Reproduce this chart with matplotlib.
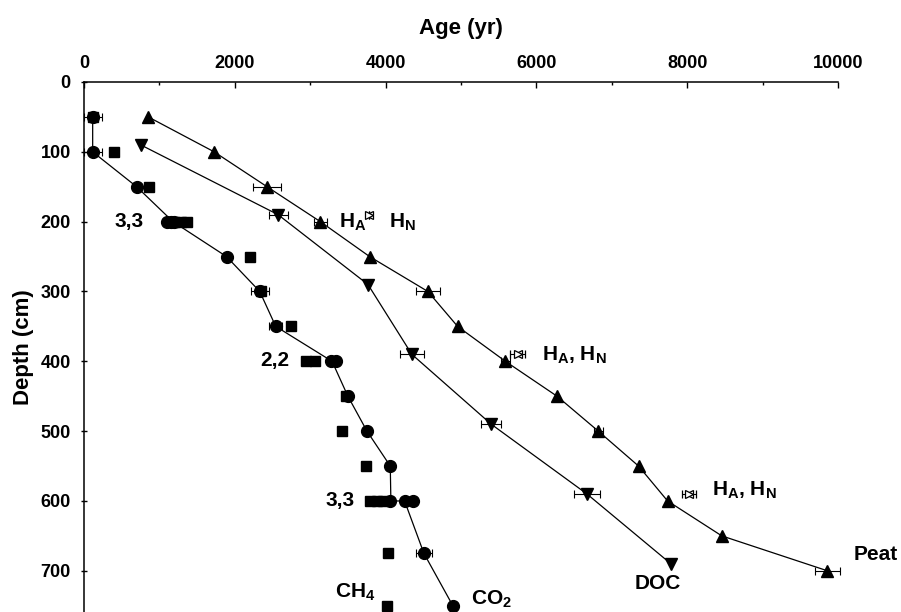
import matplotlib.pyplot as plt

plt.rcParams['font.family'] = ['Liberation Sans', 'DejaVu Sans']
plt.rcParams['font.weight'] = 'bold'
plt.rcParams['mathtext.fontset'] = 'custom'
plt.rcParams['mathtext.rm'] = 'Liberation Sans:bold'
plt.rcParams['mathtext.bf'] = 'Liberation Sans:bold'
plt.rcParams['mathtext.it'] = 'Liberation Sans:bold'
plt.rcParams['mathtext.default'] = 'bf'

# Peat (up triangles)
peat_depth = [50, 100, 150, 200, 250, 300, 350, 400, 450, 500, 550, 600, 650, 700]
peat_age = [852, 1726, 2428, 3135, 3788, 4561, 4955, 5589, 6274, 6821, 7355, 7740, 8459, 9860]
peat_err = [0, 0, 180, 90, 0, 155, 0, 60, 0, 60, 0, 0, 0, 170]

# DOC (down triangles)
doc_depth = [90, 190, 290, 390, 490, 590, 690]
doc_age = [751, 2574, 3766, 4348, 5400, 6671, 7784]
doc_err = [0, 126, 0, 155, 132, 176, 0]

# CO2 replicates (circles) and the connecting line
co2_depth = [50, 100, 150, 200, 200, 200, 250, 300, 350, 400, 400, 450, 500, 550, 600, 600, 600, 675, 750]
co2_age = [115, 115, 698, 1100, 1150, 1200, 1890, 2331, 2543, 3281, 3347, 3500, 3753, 4062, 4060, 4252, 4362, 4508, 4892]
co2_err = [119, 119, 0, 0, 0, 0, 0, 117, 88, 0, 0, 0, 0, 0, 0, 0, 0, 102, 0]
co2_line_depth = [50, 100, 150, 200, 250, 300, 350, 400, 450, 500, 550, 600, 600, 675, 750]
co2_line_age = [115, 115, 698, 1180, 1890, 2331, 2543, 3290, 3500, 3753, 4062, 4070, 4252, 4508, 4892]

# CH4 replicates (squares)
ch4_depth = [50, 100, 150, 200, 200, 200, 250, 300, 350, 400, 400, 450, 500, 550, 600, 600, 600, 675, 750]
ch4_age = [115, 402, 861, 1200, 1290, 1370, 2199, 2353, 2742, 2949, 3068, 3480, 3426, 3744, 3788, 3880, 3960, 4031, 4022]

# humic (HA) / fulvic-like (HN) fractions
h_depth = [190, 390, 590]
ha_age = [3779, 5753, 8026]
hn_age = [3779, 5753, 8026]
h_err = [0, 100, 93]

fig = plt.figure(figsize=(9.01, 6.12), dpi=100)
ax = fig.add_axes([84 / 901, 0, (838 - 84) / 901, (612 - 82) / 612])

ax.errorbar(peat_age, peat_depth, xerr=peat_err, fmt='-^', color='k', ms=9, lw=0.9,
            elinewidth=0.8, capsize=3, capthick=0.8, clip_on=False, zorder=3)
ax.errorbar(doc_age, doc_depth, xerr=doc_err, fmt='-v', color='k', ms=9, lw=0.9,
            elinewidth=0.8, capsize=3, capthick=0.8, clip_on=False, zorder=3)
ax.plot(co2_line_age, co2_line_depth, '-', color='k', lw=0.9, zorder=2)
ax.errorbar(co2_age, co2_depth, xerr=co2_err, fmt='o', color='k', ms=8.5,
            elinewidth=0.8, capsize=3, capthick=0.8, clip_on=False, zorder=3)
ax.plot(ch4_age, ch4_depth, 's', color='k', ms=7.5, clip_on=False, zorder=3)
ax.errorbar(ha_age, h_depth, xerr=h_err, fmt='>', color='k', mfc='white', ms=6, mew=0.9,
            elinewidth=0.8, capsize=3, capthick=0.8, zorder=4)
ax.plot(hn_age, h_depth, '<', color='k', mfc='none', ms=6, mew=0.9, zorder=4)

ax.set_xlim(0, 10000)
ax.set_ylim(759, 0)
ax.xaxis.tick_top()
ax.xaxis.set_label_position('top')
ax.spines['right'].set_visible(False)
ax.spines['bottom'].set_visible(False)
for s in ['top', 'left']:
    ax.spines[s].set_linewidth(1.1)
ax.set_xticks(range(0, 10001, 2000))
ax.set_xticks(range(1000, 10000, 2000), minor=True)
ax.set_yticks(range(0, 701, 100))
ax.tick_params(axis='x', which='major', direction='in', length=4, width=1, pad=7, labelsize=13)
ax.tick_params(axis='x', which='minor', direction='in', length=2.5, width=1)
ax.tick_params(axis='y', direction='inout', length=5, width=1, pad=7, labelsize=13)

ax.set_xlabel('Age (yr)', fontsize=16, fontweight='bold', labelpad=15)
ax.set_ylabel('Depth (cm)', fontsize=16, fontweight='bold', labelpad=5)

fs = 15
ax.text(790, 207, '3,3', ha='right', va='baseline', fontsize=fs)
ax.text(2728, 406, '2,2', ha='right', va='baseline', fontsize=fs)
ax.text(3589, 607, '3,3', ha='right', va='baseline', fontsize=fs)
ax.text(3377, 208, 'H$_A$', ha='left', va='baseline', fontsize=fs)
ax.text(4040, 208, 'H$_N$', ha='left', va='baseline', fontsize=fs)
ax.text(6075, 399, 'H$_A$, H$_N$', ha='left', va='baseline', fontsize=fs)
ax.text(8327, 592, 'H$_A$, H$_N$', ha='left', va='baseline', fontsize=fs)
ax.text(10212, 684, 'Peat', ha='left', va='baseline', fontsize=fs)
ax.text(7298, 726, 'DOC', ha='left', va='baseline', fontsize=fs)
ax.text(5135, 748, 'CO$_2$', ha='left', va='baseline', fontsize=fs)
ax.text(3325, 739, 'CH$_4$', ha='left', va='baseline', fontsize=fs)

fig.savefig('out.png', dpi=100)
